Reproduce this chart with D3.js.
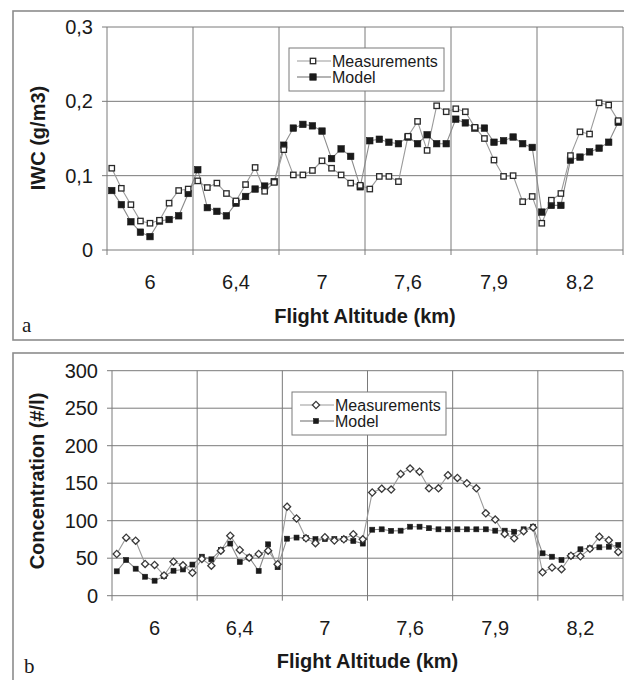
<!DOCTYPE html>
<html>
<head>
<meta charset="utf-8">
<script src="https://cdn.jsdelivr.net/npm/d3@7"></script>
<style>
  html, body { margin: 0; padding: 0; background: #fff; }
  svg { display: block; }
  text { font-family: "Liberation Sans", Arial, sans-serif; fill: #1a1a1a; }
</style>
</head>
<body>
<svg id="chart" width="624" height="680"></svg>
<script>
// Altitude labels, one per group of nine samples
const altitudeLabels = ["6", "6,4", "7", "7,6", "7,9", "8,2"];
const samplesPerLabel = 9;

// Panel a: ice water content (g/m3)
const iwcMeasured = [
  0.110, 0.083, 0.061, 0.039, 0.036, 0.040, 0.063, 0.080, 0.082,
  0.093, 0.084, 0.090, 0.076, 0.066, 0.088, 0.111, 0.079, 0.091,
  0.135, 0.101, 0.101, 0.107, 0.120, 0.110, 0.101, 0.090, 0.087,
  0.082, 0.099, 0.099, 0.092, 0.153, 0.173, 0.134, 0.194, 0.186,
  0.190, 0.186, 0.165, 0.150, 0.121, 0.099, 0.100, 0.065, 0.072,
  0.036, 0.067, 0.076, 0.127, 0.159, 0.156, 0.198, 0.195, 0.174
];
const iwcModel = [
  0.080, 0.061, 0.038, 0.024, 0.018, 0.039, 0.041, 0.046, 0.076,
  0.108, 0.057, 0.052, 0.046, 0.063, 0.072, 0.082, 0.086, 0.092,
  0.141, 0.164, 0.169, 0.167, 0.160, 0.123, 0.136, 0.126, 0.085,
  0.147, 0.149, 0.145, 0.143, 0.152, 0.143, 0.155, 0.143, 0.143,
  0.176, 0.171, 0.164, 0.164, 0.145, 0.147, 0.152, 0.143, 0.138,
  0.051, 0.060, 0.060, 0.121, 0.125, 0.132, 0.137, 0.145, 0.172
];
const iwcTicks = [0, 0.1, 0.2, 0.3];

// Panel b: crystal concentration (#/l)
const concMeasured = [
  55.6, 77.3, 73.3, 42.3, 41.0, 27.0, 45.3, 40.5, 30.5,
  49.0, 40.0, 60.0, 80.0, 61.0, 50.7, 55.6, 60.0, 42.0,
  118.7, 103.0, 76.5, 70.0, 78.0, 73.5, 75.2, 82.0, 75.2,
  137.6, 142.7, 141.5, 162.3, 169.5, 165.3, 143.2, 143.2, 160.7,
  157.0, 149.8, 143.2, 109.9, 101.5, 82.3, 76.5, 86.0, 91.0,
  31.2, 37.6, 35.4, 53.3, 52.5, 62.5, 78.7, 74.0, 58.3
];
const concModel = [
  32.5, 47.6, 36.0, 25.3, 20.0, 26.0, 33.3, 35.0, 41.5,
  52.0, 48.5, 61.0, 69.5, 45.0, 51.0, 33.0, 68.5, 38.0,
  76.0, 77.5, 77.0, 75.4, 75.5, 75.6, 75.6, 73.0, 69.5,
  88.0, 88.5, 86.5, 86.7, 92.0, 92.0, 90.0, 88.5, 88.5,
  88.5, 88.5, 88.5, 88.5, 86.7, 86.7, 85.3, 88.5, 92.0,
  56.5, 52.0, 47.6, 52.9, 61.9, 63.2, 64.5, 65.3, 67.6
];
const concTicks = [0, 50, 100, 150, 200, 250, 300];

const seriesNames = ["Measurements", "Model"];

const comma = d3.formatLocale({ decimal: ",", thousands: ".", grouping: [3], currency: ["", ""] });

const svg = d3.select("#chart");

function drawPanel(cfg) {
  const g = svg.append("g");

  // outer frame of the panel
  g.append("rect")
    .attr("x", cfg.frame[0]).attr("y", cfg.frame[1])
    .attr("width", cfg.frame[2]).attr("height", cfg.frame[3])
    .attr("fill", "none").attr("stroke", "#8c8c8c").attr("stroke-width", 1.6);

  const n = cfg.measured.length;
  const x = d3.scaleBand().domain(d3.range(n)).range([cfg.left, cfg.right]).padding(0);
  const xGroup = d3.scaleBand().domain(altitudeLabels).range([cfg.left, cfg.right]).padding(0);
  const y = d3.scaleLinear().domain(cfg.yDomain).range([cfg.bottom, cfg.top]);

  // horizontal gridlines with outward tick stubs
  g.append("g").selectAll("line").data(cfg.yTicks).join("line")
    .attr("x1", cfg.left - 5).attr("x2", cfg.right)
    .attr("y1", d => y(d)).attr("y2", d => y(d))
    .attr("stroke", "#7a7a7a").attr("stroke-width", 1);

  // vertical gridlines at group boundaries
  const bounds = d3.range(0, n + 1, samplesPerLabel);
  g.append("g").selectAll("line").data(bounds).join("line")
    .attr("x1", d => d === n ? cfg.right : x(d)).attr("x2", d => d === n ? cfg.right : x(d))
    .attr("y1", cfg.top).attr("y2", cfg.bottom + 5)
    .attr("stroke", "#7a7a7a").attr("stroke-width", 1);

  // y tick labels
  g.append("g").selectAll("text").data(cfg.yTicks).join("text")
    .attr("x", cfg.left - 14).attr("y", d => y(d))
    .attr("text-anchor", "end").attr("dominant-baseline", "central")
    .style("font-size", "20px")
    .text(cfg.yFormat);

  // x labels centred in each group
  g.append("g").selectAll("text").data(altitudeLabels).join("text")
    .attr("x", d => xGroup(d) + xGroup.bandwidth() / 2).attr("y", cfg.xLabelY)
    .attr("text-anchor", "middle").attr("dominant-baseline", "central")
    .style("font-size", "20px")
    .text(d => d);

  // axis titles
  g.append("text")
    .attr("x", (cfg.left + cfg.right) / 2).attr("y", cfg.xTitleY)
    .attr("text-anchor", "middle").attr("dominant-baseline", "central")
    .style("font-size", "20px").style("font-weight", "bold")
    .text("Flight Altitude (km)");
  g.append("text")
    .attr("transform", `translate(${cfg.yTitleX},${cfg.yTitleY}) rotate(-90)`)
    .attr("text-anchor", "middle").attr("dominant-baseline", "central")
    .style("font-size", "20px").style("font-weight", "bold")
    .text(cfg.yTitle);

  // panel letter
  g.append("text")
    .attr("x", cfg.letterPos[0]).attr("y", cfg.letterPos[1])
    .attr("dominant-baseline", "central")
    .style("font-family", "'Liberation Serif', 'DejaVu Serif', serif")
    .style("font-size", "21px")
    .text(cfg.letter);

  const cx = i => x(i) + x.bandwidth() / 2;
  const line = d3.line().x((d, i) => cx(i)).y(d => y(d));

  // series lines
  g.append("path").datum(cfg.model).attr("d", line)
    .attr("fill", "none").attr("stroke", "#8a8a8a").attr("stroke-width", 1.1);
  g.append("path").datum(cfg.measured).attr("d", line)
    .attr("fill", "none").attr("stroke", "#9a9a9a").attr("stroke-width", 1.1);

  // markers
  const drawMeasMarker = (sel, px, py) => {
    if (cfg.measShape === "square") {
      sel.append("rect")
        .attr("x", px - 2.7).attr("y", py - 2.7).attr("width", 5.4).attr("height", 5.4)
        .attr("fill", "#fff").attr("stroke", "#2a2a2a").attr("stroke-width", 1.3);
    } else {
      const r = 3.6;
      sel.append("path")
        .attr("d", `M${px},${py - r}L${px + r},${py}L${px},${py + r}L${px - r},${py}Z`)
        .attr("fill", "#fff").attr("stroke", "#3a3a3a").attr("stroke-width", 1.3);
    }
  };
  const drawModelMarker = (sel, px, py) => {
    const s = cfg.modelSize;
    sel.append("rect")
      .attr("x", px - s / 2).attr("y", py - s / 2).attr("width", s).attr("height", s)
      .attr("fill", "#1a1a1a").attr("stroke", "#1a1a1a").attr("stroke-width", 0.6);
  };

  const mg = g.append("g");
  cfg.model.forEach((v, i) => drawModelMarker(mg, cx(i), y(v)));
  const sg = g.append("g");
  cfg.measured.forEach((v, i) => drawMeasMarker(sg, cx(i), y(v)));

  // legend
  const lg = g.append("g");
  const [lx, ly, lw, lh] = cfg.legend;
  lg.append("rect").attr("x", lx).attr("y", ly).attr("width", lw).attr("height", lh)
    .attr("fill", "#fff").attr("stroke", "#7a7a7a").attr("stroke-width", 1);
  seriesNames.forEach((name, k) => {
    const ry = ly + cfg.legendRows[k];
    lg.append("line").attr("x1", lx + 8).attr("x2", lx + 42).attr("y1", ry).attr("y2", ry)
      .attr("stroke", k === 0 ? "#9a9a9a" : "#6a6a6a").attr("stroke-width", 1.1);
    if (k === 0) drawMeasMarker(lg, lx + 24, ry);
    else drawModelMarker(lg, lx + 24, ry);
    lg.append("text").attr("x", lx + 43).attr("y", ry)
      .attr("dominant-baseline", "central")
      .style("font-size", "16px")
      .text(name);
  });
}

drawPanel({
  frame: [13, 11, 640, 329],
  left: 107, right: 623, top: 27, bottom: 250,
  yDomain: [0, 0.3], yTicks: iwcTicks,
  yFormat: d => comma.format(".1~f")(d),
  yTitle: "IWC (g/m3)", yTitleX: 38, yTitleY: 138,
  xLabelY: 282, xTitleY: 316,
  letter: "a", letterPos: [22, 325],
  measured: iwcMeasured, model: iwcModel,
  measShape: "square", modelSize: 6.5,
  legend: [289, 48, 155, 43], legendRows: [13, 29]
});

drawPanel({
  frame: [13, 353, 640, 340],
  left: 112, right: 623, top: 370.7, bottom: 595.7,
  yDomain: [0, 300], yTicks: concTicks,
  yFormat: d => comma.format("d")(d),
  yTitle: "Concentration (#/l)", yTitleX: 37, yTitleY: 481,
  xLabelY: 628, xTitleY: 661,
  letter: "b", letterPos: [24, 666],
  measured: concMeasured, model: concModel,
  measShape: "diamond", modelSize: 5,
  legend: [292, 392, 154, 43], legendRows: [13, 29]
});
</script>
</body>
</html>
